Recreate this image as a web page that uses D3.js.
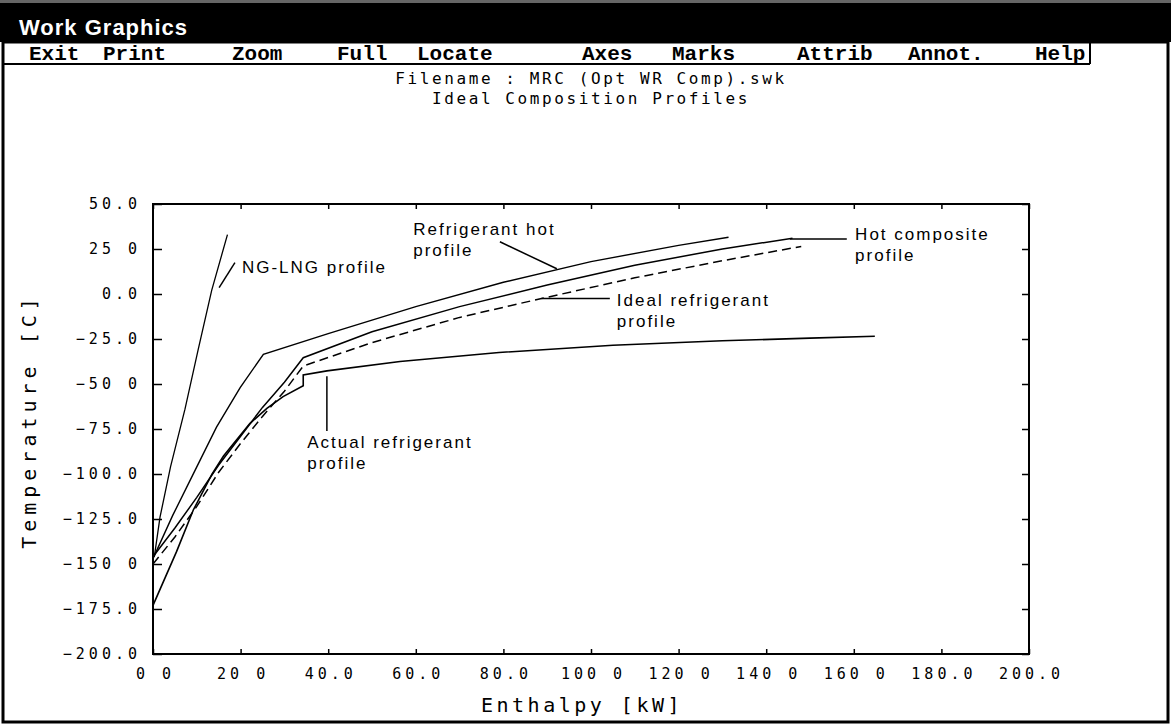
<!DOCTYPE html>
<html>
<head>
<meta charset="utf-8">
<script src="https://cdn.jsdelivr.net/npm/d3@7"></script>
<style>
  body { margin: 0; background: #fff; }
  svg { display: block; }
  .mono { font-family: "DejaVu Sans Mono", monospace; }
  .note { font-family: "Liberation Sans", Arial, sans-serif; font-size: 17px; letter-spacing: 2px; }
</style>
</head>
<body>
<svg id="chart" width="1171" height="725"></svg>
<script>
// enthalpy [kW] vs temperature [C]
const ngLng = [[0.3, -146], [1.6, -124], [4, -96], [7.3, -64], [10.3, -31], [13.4, 2], [17, 33]]
const refHot = [[0, -147], [4.5, -123], [9.6, -98], [14.5, -74], [19.9, -52], [25.2, -33.5],
    [40, -22], [60, -7], [80, 6.5], [100, 18], [120, 27], [131.4, 31.5]]
const hotComp = [[0, -146], [5, -130], [10, -113], [15, -95], [20, -79], [25, -63], [30, -49],
    [34.3, -35.4], [50, -21], [70, -7], [90, 5], [110, 16], [130, 25], [146, 31]]
const idealRef = [[0, -150], [5, -135], [10, -118], [15, -99], [20, -83], [25, -68], [30, -54],
    [34.3, -40], [50, -27], [70, -13], [88.7, -2.5], [110, 9], [130, 18.5], [148, 26.4]]
const actualRef = [[0, -173], [5.4, -143], [9.2, -120], [13.5, -100], [16.1, -90], [22.1, -72],
    [26, -63.5], [29.7, -57], [34.3, -51], [34.3, -45], [39.7, -42.7], [56.4, -37.5], [79, -32.5],
    [105, -28.5], [130, -26], [150, -24.5], [164.8, -23.5]]

const xTicks = d3.range(0, 201, 20)
const yTicks = d3.range(-200, 51, 25)
const xTickLabels = ["0 0", "20 0", "40.0", "60.0", "80.0", "100 0", "120 0", "140 0", "160 0", "180.0", "200.0"]
const yTickLabels = ["\u2212200.0", "\u2212175.0", "\u2212150 0", "\u2212125.0", "\u2212100.0", "\u221275.0",
    "\u221250 0", "\u221225.0", "0.0", "25 0", "50.0"]

const menuItems = ["Exit", "Print", "Zoom", "Full", "Locate", "Axes", "Marks", "Attrib", "Annot.", "Help"]
const menuX = [29, 103, 232, 337, 417, 582, 672, 797, 908, 1035]

// annotation text and leader lines, in data units
const notes = [
    { lines: ["NG-LNG profile"], at: [20.3, 11.8], leader: [[18.7, 17.4], [15.1, 3.5]] },
    { lines: ["Refrigerant hot", "profile"], at: [59.4, 32.8], leader: [[79.2, 29], [92.2, 14]] },
    { lines: ["Hot composite", "profile"], at: [160.3, 30.1], leader: [[145.4, 30.6], [158.4, 30.6]] },
    { lines: ["Ideal refrigerant", "profile"], at: [105.9, -6.4], leader: [[88.7, -2.5], [104.3, -2.5]] },
    { lines: ["Actual refrigerant", "profile"], at: [35.2, -85.5], leader: [[39.7, -45.7], [39.7, -76.1]] }
]

let svg = d3.select("#chart")
let margin = { top: 204, right: 142, bottom: 69, left: 153 }
let width = 1171
let height = 725

// window chrome
svg.append("rect").attr("x", 0).attr("y", 0).attr("width", width).attr("height", 42).attr("fill", "#000")
svg.append("rect").attr("x", 0).attr("y", 0).attr("width", width).attr("height", 3).attr("fill", "#666")
svg.append("text")
    .attr("x", 19).attr("y", 35)
    .attr("fill", "#fff")
    .style("font-family", "Liberation Sans, Arial, sans-serif")
    .style("font-weight", "bold")
    .style("font-size", "22px")
    .style("letter-spacing", "1px")
    .text("Work Graphics")

svg.append("rect")
    .attr("x", 3).attr("y", 42).attr("width", width - 6).attr("height", height - 45)
    .attr("fill", "none").attr("stroke", "#000").attr("stroke-width", 3)

svg.append("g").selectAll("text")
    .data(menuItems)
    .join("text")
    .attr("x", (d, i) => menuX[i])
    .attr("y", 60)
    .style("font-family", "Liberation Mono, Courier New, monospace")
    .style("font-weight", "bold")
    .style("font-size", "21px")
    .text(d => d)

svg.append("line").attr("x1", 3).attr("x2", 1090).attr("y1", 64).attr("y2", 64)
    .attr("stroke", "#000").attr("stroke-width", 2)
svg.append("line").attr("x1", 1090).attr("x2", 1090).attr("y1", 42).attr("y2", 64)
    .attr("stroke", "#000").attr("stroke-width", 2)

// titles
let plotCenter = (margin.left + width - margin.right) / 2
svg.append("text").attr("class", "mono")
    .attr("x", plotCenter).attr("y", 84)
    .attr("text-anchor", "middle")
    .style("font-size", "16px").style("letter-spacing", "2.6px")
    .text("Filename : MRC (Opt WR Comp).swk")
svg.append("text").attr("class", "mono")
    .attr("x", plotCenter).attr("y", 104)
    .attr("text-anchor", "middle")
    .style("font-size", "16px").style("letter-spacing", "2.6px")
    .text("Ideal Composition Profiles")

// scales
let xScale = d3.scaleLinear().domain([0, 200]).range([margin.left, width - margin.right])
let yScale = d3.scaleLinear().domain([-200, 50]).range([height - margin.bottom - 2, margin.top])

let xAxis = d3.axisBottom(xScale).tickValues(xTicks).tickSize(-5).tickPadding(14)
    .tickFormat((d, i) => xTickLabels[i])
let yAxis = d3.axisLeft(yScale).tickValues(yTicks).tickSize(-9).tickPadding(12)
    .tickFormat((d, i) => yTickLabels[i])

let xAxisEl = svg.append("g")
    .attr("transform", `translate(0,${yScale(-200)})`)
    .call(xAxis)
let yAxisEl = svg.append("g")
    .attr("transform", `translate(${xScale(0)},0)`)
    .call(yAxis)
svg.append("g")
    .attr("transform", `translate(0,${yScale(50)})`)
    .call(d3.axisTop(xScale).tickValues(xTicks).tickSize(-5).tickFormat(""))
svg.append("g")
    .attr("transform", `translate(${xScale(200)},0)`)
    .call(d3.axisRight(yScale).tickValues(yTicks).tickSize(-7).tickFormat(""))

svg.selectAll(".domain").remove()
svg.selectAll(".tick line").attr("stroke", "#000").attr("stroke-width", 1.5)
for (const el of [xAxisEl, yAxisEl]) {
    el.selectAll("text")
        .attr("class", "mono")
        .attr("fill", "#000")
        .style("font-size", "15px")
        .style("letter-spacing", "4px")
}
xAxisEl.selectAll("text").attr("dx", 2)

svg.append("rect")
    .attr("x", xScale(0)).attr("y", yScale(50))
    .attr("width", xScale(200) - xScale(0)).attr("height", yScale(-200) - yScale(50))
    .attr("fill", "none").attr("stroke", "#000").attr("stroke-width", 2)

// axis titles
svg.append("text").attr("class", "mono")
    .attr("x", 582).attr("y", 712)
    .attr("text-anchor", "middle")
    .style("font-size", "20px").style("letter-spacing", "3.5px")
    .text("Enthalpy [kW]")
svg.append("text").attr("class", "mono")
    .attr("transform", `translate(36,${(yScale(50) + yScale(-200)) / 2 - 8}) rotate(-90)`)
    .attr("text-anchor", "middle")
    .style("font-size", "20px").style("letter-spacing", "5px")
    .text("Temperature [C]")

// profiles
let line = d3.line()
    .x(d => xScale(d[0]))
    .y(d => yScale(d[1]))

let lines = svg.append("g").attr("fill", "none").attr("stroke", "#000")
lines.append("path").datum(ngLng).attr("d", line).attr("stroke-width", 1.3)
lines.append("path").datum(refHot).attr("d", line).attr("stroke-width", 1.4)
lines.append("path").datum(hotComp).attr("d", line).attr("stroke-width", 1.5)
lines.append("path").datum(idealRef).attr("d", line).attr("stroke-width", 1.5).attr("stroke-dasharray", "9,5")
lines.append("path").datum(actualRef).attr("d", line).attr("stroke-width", 1.6)

// annotations
let noteG = svg.append("g")
for (const n of notes) {
    noteG.append("path").datum(n.leader).attr("d", line)
        .attr("fill", "none").attr("stroke", "#000").attr("stroke-width", 1.5)
    let t = noteG.append("text").attr("class", "note")
        .attr("x", xScale(n.at[0])).attr("y", yScale(n.at[1]))
    n.lines.forEach((s, i) => {
        t.append("tspan").attr("x", xScale(n.at[0])).attr("dy", i ? 21 : 0).text(s)
    })
}
</script>
</body>
</html>
